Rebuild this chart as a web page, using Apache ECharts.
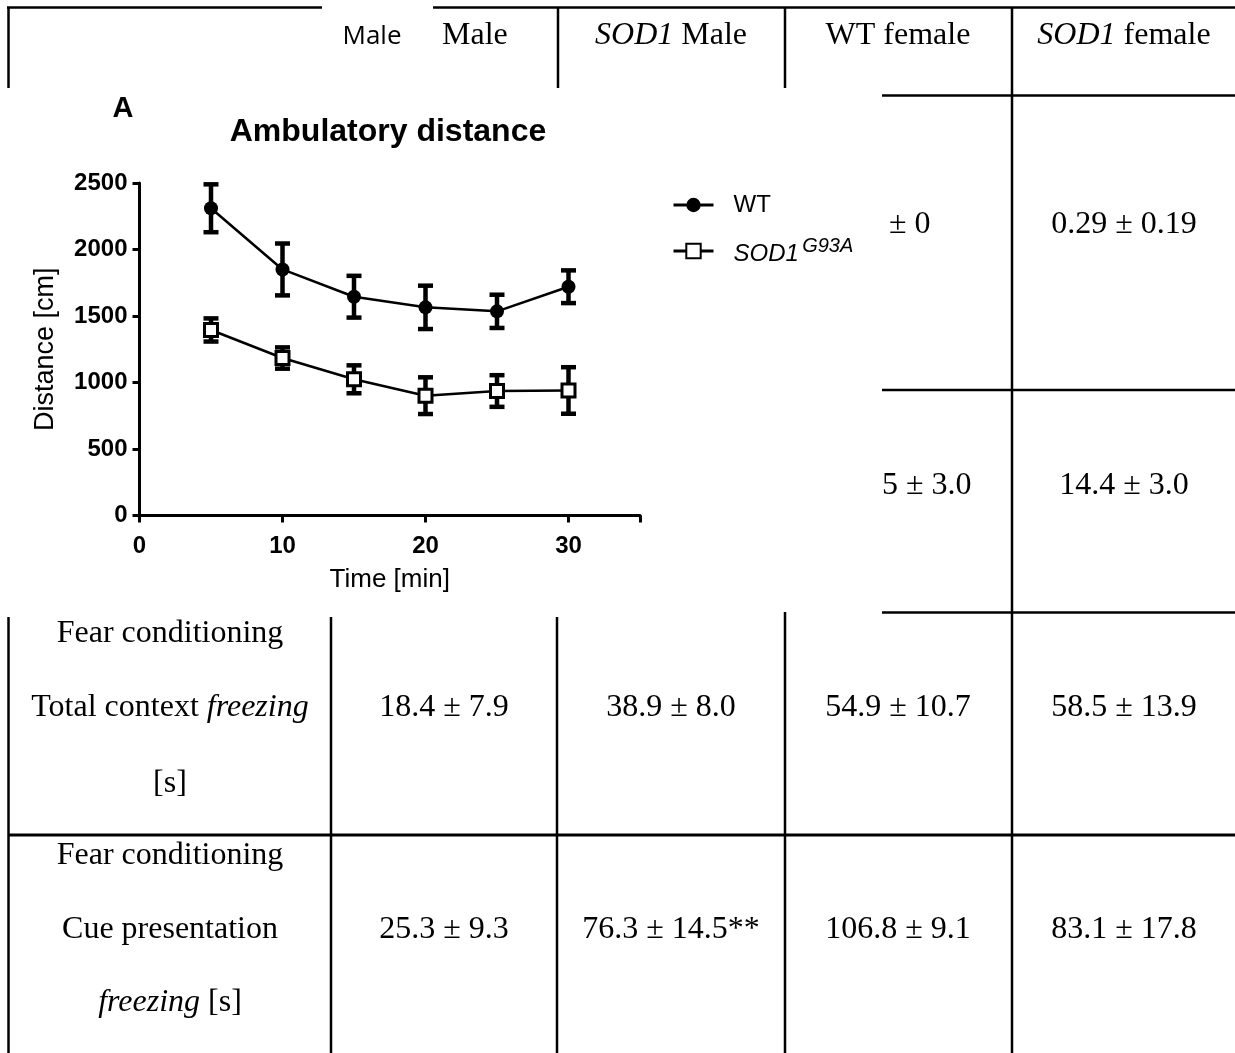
<!DOCTYPE html>
<html>
<head>
<meta charset="utf-8">
<script src="https://cdn.jsdelivr.net/npm/echarts@6/dist/echarts.min.js"></script>
<style>
html,body{margin:0;padding:0;background:#fff;}
#c{width:1235px;height:1053px;}
</style>
</head>
<body>
<div id="c"></div>
<script>
// ---- chart data ----
const times = [5, 10, 15, 20, 25, 30];
const wtMean = [2310, 1850, 1645, 1565, 1535, 1720];
const wtSem = [180, 195, 157, 163, 125, 123];
const sodMean = [1395, 1184, 1024, 901, 936, 940];
const sodSem = [87, 80, 105, 138, 119, 175];
const yTicks = [0, 500, 1000, 1500, 2000, 2500];
const xTicks = [0, 10, 20, 30];
const seriesNames = ['WT', 'SOD1G93A'];

// ---- table text ----
const headerFragment = 'Male';
const headerLabels = ['{n|Male}', '{i|SOD1}{n| Male}', '{n|WT female}', '{i|SOD1}{n| female}'];
const row1Visible = ['± 0', '0.29 ± 0.19'];
const row2Visible = ['5 ± 3.0', '14.4 ± 3.0'];
const contextLabel = ['{n|Fear conditioning}', '{n|Total context }{i|freezing}', '{n|[s]}'];
const cueLabel = ['{n|Fear conditioning}', '{n|Cue presentation}', '{i|freezing}{n| [s]}'];
const contextFreezing = ['18.4 ± 7.9', '38.9 ± 8.0', '54.9 ± 10.7', '58.5 ± 13.9'];
const cueFreezing = ['25.3 ± 9.3', '76.3 ± 14.5**', '106.8 ± 9.1', '83.1 ± 17.8'];

const SERIF = 'Liberation Serif';
const SANS = 'Liberation Sans';
const FS = 32;
const serifRich = {
  n: {fontFamily: SERIF, fontSize: FS, fill: '#000'},
  i: {fontFamily: SERIF, fontSize: FS, fontStyle: 'italic', fill: '#000'}
};

function ln(x1, y1, x2, y2, w) {
  return {type: 'line', silent: true, z: 0, shape: {x1, y1, x2, y2}, style: {stroke: '#000', lineWidth: w || 2.5}};
}
function rtxt(str, x, y) {
  return {type: 'text', silent: true, z: 1, x, y, style: {text: str, rich: serifRich, fontFamily: SERIF, fontSize: FS, fill: '#000', align: 'center', verticalAlign: 'middle'}};
}
function ptxt(str, x, y, align) {
  return {type: 'text', silent: true, z: 1, x, y, style: {text: str, fontFamily: SERIF, fontSize: FS, fill: '#000', align: align || 'center', verticalAlign: 'middle'}};
}

const colCenters = [444, 671, 898, 1124];
const graphics = [
  // table rules
  ln(7, 7.5, 322, 7.5), ln(433, 7.5, 1235, 7.5),
  ln(8.5, 7, 8.5, 88), ln(558, 7, 558, 88), ln(785, 7, 785, 88),
  ln(1012, 7, 1012, 1053),
  ln(882, 95.5, 1235, 95.5), ln(882, 390, 1235, 390), ln(882, 612.5, 1235, 612.5),
  ln(8.5, 617, 8.5, 1053), ln(331, 617, 331, 1053), ln(557, 617, 557, 1053), ln(785, 612, 785, 1053),
  ln(8, 835, 1235, 835, 3),
  // header texts
  {type: 'text', silent: true, z: 1, x: 372, y: 37, style: {text: headerFragment, fontFamily: 'Open Sans', fontSize: 26, fill: '#000', align: 'center', verticalAlign: 'middle'}},
  ptxt('Male', 442, 36, 'left'),
  rtxt(headerLabels[1], colCenters[1], 36),
  rtxt(headerLabels[2], colCenters[2], 36),
  rtxt(headerLabels[3], colCenters[3], 36),
  // rows 1,2 (visible parts)
  ptxt(row1Visible[0], 889, 225, 'left'),
  ptxt(row1Visible[1], colCenters[3], 225),
  ptxt(row2Visible[0], 882, 486, 'left'),
  ptxt(row2Visible[1], colCenters[3], 486),
  // row 3
  rtxt(contextLabel[0], 170, 634), rtxt(contextLabel[1], 170, 708), rtxt(contextLabel[2], 170, 784),
  // row 4
  rtxt(cueLabel[0], 170, 856), rtxt(cueLabel[1], 170, 930), rtxt(cueLabel[2], 170, 1003),
  // chart headings
  {type: 'text', silent: true, z: 1, x: 123, y: 109, style: {text: 'A', fontFamily: SANS, fontWeight: 'bold', fontSize: 29, fill: '#000', align: 'center', verticalAlign: 'middle'}},
  {type: 'text', silent: true, z: 1, x: 388, y: 132, style: {text: 'Ambulatory distance', fontFamily: SANS, fontWeight: 'bold', fontSize: 32, fill: '#000', align: 'center', verticalAlign: 'middle'}}
];
contextFreezing.forEach((t, i) => graphics.push(ptxt(t, colCenters[i], 708)));
cueFreezing.forEach((t, i) => graphics.push(ptxt(t, colCenters[i], 930)));

function errRender(params, api) {
  const x = api.value(0), m = api.value(1), e = api.value(2);
  const top = api.coord([x, m + e]);
  const bot = api.coord([x, m - e]);
  const hw = 7.5;
  const st = {stroke: '#000', lineWidth: 4.5};
  return {type: 'group', children: [
    {type: 'line', shape: {x1: top[0], y1: top[1], x2: bot[0], y2: bot[1]}, style: {stroke: '#000', lineWidth: 4.5}},
    {type: 'line', shape: {x1: top[0] - hw, y1: top[1], x2: top[0] + hw, y2: top[1]}, style: st},
    {type: 'line', shape: {x1: bot[0] - hw, y1: bot[1], x2: bot[0] + hw, y2: bot[1]}, style: st}
  ]};
}

const chart = echarts.init(document.getElementById('c'), null, {renderer: 'canvas'});
chart.setOption({
  animation: false,
  backgroundColor: '#fff',
  graphic: {elements: graphics},
  grid: {left: 139.5, top: 183, width: 500.5, height: 332.5, containLabel: false},
  legend: {
    orient: 'vertical', left: 667, top: 188, itemGap: 19, itemWidth: 40, itemHeight: 18,
    data: seriesNames,
    formatter: function (name) { return name === 'WT' ? '{n|WT}' : '{it|SOD1}{sp| }{sup|G93A}'; },
    lineStyle: {width: 3},
    textStyle: {
      color: '#000', fontFamily: SANS, fontSize: 24, padding: [0, 0, 0, 15],
      rich: {
        n: {fontFamily: SANS, fontSize: 24, color: '#000', lineHeight: 30},
        it: {fontFamily: SANS, fontSize: 24, fontStyle: 'italic', color: '#000', lineHeight: 30, padding: [6, 0, 0, 0]},
        sp: {fontFamily: SANS, fontSize: 12, color: '#000'},
        sup: {fontFamily: SANS, fontSize: 20, fontStyle: 'italic', color: '#000', verticalAlign: 'top', lineHeight: 20}
      }
    }
  },
  xAxis: {
    type: 'value', min: 0, max: 35, interval: 10,
    name: 'Time [min]', nameLocation: 'middle', nameGap: 51,
    nameTextStyle: {color: '#000', fontFamily: SANS, fontSize: 26},
    axisLine: {show: true, onZero: false, lineStyle: {color: '#000', width: 3}},
    axisTick: {show: true, length: 7, lineStyle: {color: '#000', width: 3}},
    axisLabel: {color: '#000', fontFamily: SANS, fontWeight: 'bold', fontSize: 24, margin: 19,
      formatter: v => xTicks.indexOf(v) >= 0 ? String(v) : ''},
    splitLine: {show: false}
  },
  yAxis: {
    type: 'value', min: 0, max: 2500, interval: 500,
    name: 'Distance [cm]', nameLocation: 'middle', nameGap: 80,
    nameTextStyle: {color: '#000', fontFamily: SANS, fontSize: 27},
    axisLine: {show: true, lineStyle: {color: '#000', width: 3}},
    axisTick: {show: true, length: 7, lineStyle: {color: '#000', width: 3}},
    axisLabel: {color: '#000', fontFamily: SANS, fontWeight: 'bold', fontSize: 24, margin: 12,
      formatter: v => yTicks.indexOf(v) >= 0 ? String(v) : ''},
    splitLine: {show: false}
  },
  series: [
    {type: 'custom', name: 'wtErr', renderItem: errRender, z: 2, silent: true,
      data: times.map((t, i) => [t, wtMean[i], wtSem[i]])},
    {type: 'custom', name: 'sodErr', renderItem: errRender, z: 2, silent: true,
      data: times.map((t, i) => [t, sodMean[i], sodSem[i]])},
    {type: 'line', name: seriesNames[0], z: 3, symbol: 'circle', symbolSize: 14,
      itemStyle: {color: '#000'}, lineStyle: {color: '#000', width: 2.5},
      data: times.map((t, i) => [t, wtMean[i]])},
    {type: 'line', name: seriesNames[1], z: 3, symbol: 'rect', symbolSize: 13,
      itemStyle: {color: '#fff', borderColor: '#000', borderWidth: 3}, lineStyle: {color: '#000', width: 2.5},
      data: times.map((t, i) => [t, sodMean[i]])}
  ]
});
</script>
</body>
</html>
